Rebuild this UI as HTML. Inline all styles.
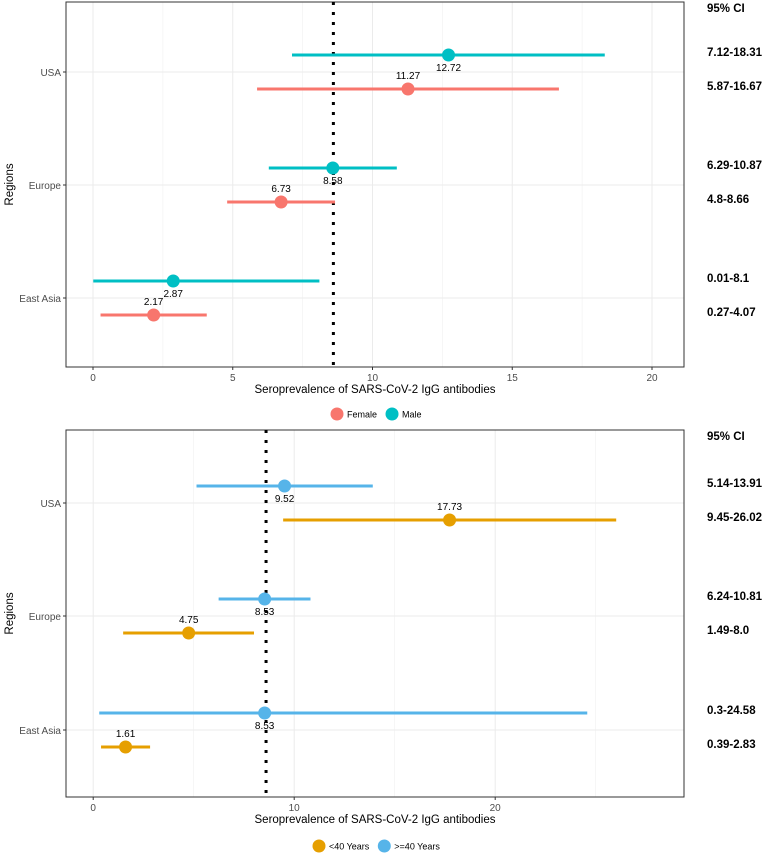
<!DOCTYPE html>
<html><head><meta charset="utf-8"><style>
body{margin:0;background:#fff;}
svg{display:block;font-family:"Liberation Sans",Arial,sans-serif;}
</style></head><body>
<svg id="c" width="763" height="863"></svg>
<script>
const regions=["USA","Europe","East Asia"];
const p1Series=["Female","Male"];
const p1Est=[[11.27,6.73,2.17],[12.72,8.58,2.87]];
const p1Lo=[[5.87,4.8,0.27],[7.12,6.29,0.01]];
const p1Hi=[[16.67,8.66,4.07],[18.31,10.87,8.1]];
const p1CiText=[["5.87-16.67","4.8-8.66","0.27-4.07"],["7.12-18.31","6.29-10.87","0.01-8.1"]];
const p1Ticks=[0,5,10,15,20];
const p2Series=["<40 Years",">=40 Years"];
const p2Est=[[17.73,4.75,1.61],[9.52,8.53,8.53]];
const p2Lo=[[9.45,1.49,0.39],[5.14,6.24,0.3]];
const p2Hi=[[26.02,8.0,2.83],[13.91,10.81,24.58]];
const p2CiText=[["9.45-26.02","1.49-8.0","0.39-2.83"],["5.14-13.91","6.24-10.81","0.3-24.58"]];
const p2Ticks=[0,10,20];
const refLine=8.6;

const NS="http://www.w3.org/2000/svg";
const svg=document.getElementById('c');
function mk(t,a,p){const e=document.createElementNS(NS,t);for(const k in a)e.setAttribute(k,a[k]);(p||svg).appendChild(e);return e;}
function txt(s,a,p){const e=mk('text',a,p);e.textContent=s;return e;}

function panel(cfg){
  const g=mk('g',{});
  
  
  const L=66,R=684,T=cfg.top,B=cfg.bottom;
  const x=v=>cfg.x0+v*cfg.scale;
  const yc=i=>cfg.yTicks[i];
  for(let v=cfg.minorStep/2;x(v)<R;v+=cfg.minorStep){mk('line',{x1:x(v),x2:x(v),y1:T,y2:B,stroke:'#f1f1f1','stroke-width':0.6},g);}
  cfg.ticks.forEach(t=>{mk('line',{x1:x(t),x2:x(t),y1:T,y2:B,stroke:'#ebebeb','stroke-width':1},g);});
  regions.forEach((r,i)=>{mk('line',{x1:L,x2:R,y1:yc(i),y2:yc(i),stroke:'#ebebeb','stroke-width':1},g);});
  mk('rect',{x:L,y:T,width:R-L,height:B-T,fill:'none',stroke:'#333','stroke-width':1},g);
  cfg.ticks.forEach(t=>{
    mk('line',{x1:x(t),x2:x(t),y1:B,y2:B+3,stroke:'#333'},g);
    const tl=txt(String(t),{x:x(t),y:B+14,'font-size':10,fill:'#4d4d4d','text-anchor':'middle'},g);
    
    
  });
  regions.forEach((r,i)=>{
    mk('line',{x1:L-3,x2:L,y1:yc(i),y2:yc(i),stroke:'#333'},g);
    const rl=txt(r,{x:L-5,y:yc(i)+4,'font-size':10,fill:'#4d4d4d','text-anchor':'end'},g);
    
    
  });
  const xt=txt('Seroprevalence of SARS-CoV-2 IgG antibodies',{x:375,y:B+26,'font-size':11.5,fill:'#000','text-anchor':'middle'},g);
  
  
  const yt=txt('Regions',{x:0,y:0,'font-size':11.5,fill:'#000','text-anchor':'middle',transform:`translate(13,${(T+B)/2}) rotate(-90)`},g);
  
  
  const rf=mk('line',{x1:x(refLine),x2:x(refLine),y1:T,y2:B,stroke:'#000','stroke-width':3,'stroke-dasharray':'3,7'},g);
  
  
  const offs=[17,-17];
  cfg.est.forEach((arr,s)=>{
    arr.forEach((v,i)=>{
      const y=yc(i)+offs[s];
      const ln=mk('line',{x1:x(cfg.lo[s][i]),x2:x(cfg.hi[s][i]),y1:y,y2:y,stroke:cfg.colors[s],'stroke-width':3},g);
      
      
      const c=mk('circle',{cx:x(v),cy:y,r:6.5,fill:cfg.colors[s]},g);
      
      
      const ly=s===0?y-10:y+16;
      const vl=txt(v.toFixed(2),{x:x(v),y:ly,'font-size':10,fill:'#000','text-anchor':'middle'},g);
      
      
    });
  });
  const h=txt('95% CI',{x:707,y:T+10,'font-size':11.5,'font-weight':'bold',fill:'#000'},g);
  
  
  cfg.est.forEach((arr,s)=>arr.forEach((v,i)=>{
    const y=yc(i)+offs[s];
    const cl=txt(cfg.ciText[s][i],{x:707,y:y+1,'font-size':11.5,'font-weight':'bold',fill:'#000'},g);
    
    
  }));
  const lg=mk('g',{},g);
  
  
  let lx=cfg.legendX;
  cfg.series.forEach((s,k)=>{
    mk('circle',{cx:lx,cy:cfg.legendY,r:6.5,fill:cfg.colors[k]},lg);
    const t=txt(s,{x:lx+10,y:cfg.legendY+3.5,'font-size':9,fill:'#000'},lg);
    
    
    lx+=10+t.getComputedTextLength()+15;
  });
}
panel({name:'sex-panel',top:2,bottom:367,x0:93,scale:27.95,ticks:p1Ticks,minorStep:5,
  yTicks:[72,185,298],est:p1Est,lo:p1Lo,hi:p1Hi,ciText:p1CiText,colors:['#F8766D','#00BFC4'],series:p1Series,legendX:337,legendY:414});
panel({name:'age-panel',top:430,bottom:797,x0:93.2,scale:20.1,ticks:p2Ticks,minorStep:10,
  yTicks:[503,616,730],est:p2Est,lo:p2Lo,hi:p2Hi,ciText:p2CiText,colors:['#E69F00','#56B4E9'],series:p2Series,legendX:319,legendY:846});
</script>
</body></html>
